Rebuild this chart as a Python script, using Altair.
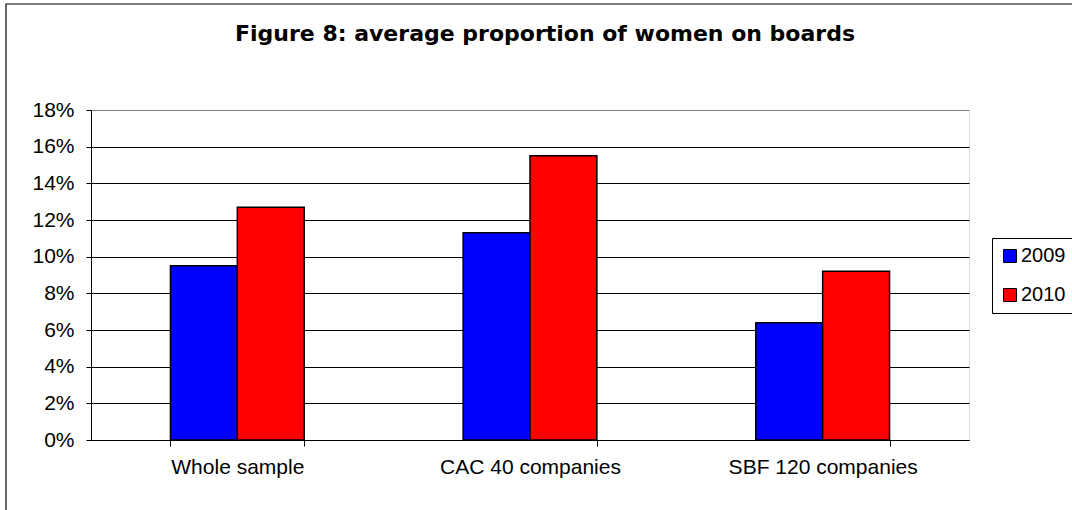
import altair as alt
import pandas as pd

# Average share of women on boards, by index and year
groups = ["Whole sample", "CAC 40 companies", "SBF 120 companies"]
years = ["2009", "2010"]
share_2009 = [0.095, 0.113, 0.064]
share_2010 = [0.127, 0.155, 0.092]
y_ticks = [0.0, 0.02, 0.04, 0.06, 0.08, 0.10, 0.12, 0.14, 0.16, 0.18]
bar_colors = ["#0000FF", "#FF0000"]

rows = []
for g, a, b in zip(groups, share_2009, share_2010):
    rows.append({"group": g, "year": years[0], "share": a})
    rows.append({"group": g, "year": years[1], "share": b})
df = pd.DataFrame(rows)

FONT = "Liberation Sans"

bars = alt.Chart(df).mark_bar(stroke="black", strokeWidth=1.5).encode(
    x=alt.X(
        "group:N",
        sort=groups,
        scale=alt.Scale(paddingInner=0.543, paddingOuter=0.2715),
        axis=alt.Axis(
            title=None,
            labelAngle=0,
            labelFontSize=21,
            labelFont=FONT,
            labelColor="black",
            labelPadding=10,
            labelLimit=400,
            tickBand="extent",
            tickSize=6,
            tickColor="black",
            domainColor="black",
            grid=False,
        ),
    ),
    xOffset=alt.XOffset("year:N", sort=years),
    y=alt.Y(
        "share:Q",
        scale=alt.Scale(domain=[0, 0.18], nice=False),
        axis=alt.Axis(
            title=None,
            values=y_ticks,
            format=".0%",
            labelFontSize=21,
            labelFont=FONT,
            labelColor="black",
            labelPadding=12,
            tickSize=5,
            tickColor="black",
            domainColor="black",
            grid=True,
            gridColor={
                "condition": {"test": "datum.value >= 0.179", "value": "#808080"},
                "value": "#000000",
            },
            gridWidth=1,
        ),
    ),
    color=alt.Color(
        "year:N",
        scale=alt.Scale(domain=years, range=bar_colors),
        legend=alt.Legend(
            title=None,
            orient="none",
            legendX=901,
            legendY=128,
            strokeColor="black",
            fillColor="white",
            padding=8,
            symbolType="square",
            symbolSize=169,
            symbolStrokeColor="black",
            symbolStrokeWidth=1,
            labelFontSize=20,
            labelFont=FONT,
            labelColor="black",
            labelOffset=1,
            rowPadding=19,
        ),
    ),
)

# outer chart frame
frame = alt.Chart(alt.Data(values=[{"k": 1}])).mark_rect(
    filled=False, stroke="black", strokeWidth=1.2
).encode(
    x=alt.value(-85),
    x2=alt.value(1100),
    y=alt.value(-106),
    y2=alt.value(500),
)

chart = alt.layer(frame, bars).properties(
    width=878,
    height=330,
    title=alt.Title(
        "Figure 8: average proportion of women on boards",
        font="DejaVu Sans",
        fontSize=22,
        fontWeight="bold",
        color="black",
        anchor="middle",
        dx=15,
        offset=-43,
    ),
    autosize=alt.AutoSizeParams(type="none"),
    padding={"left": 91, "top": 110, "right": 103, "bottom": 70},
).configure_view(
    stroke="#808080", strokeWidth=1
).configure(
    background="white"
)

chart.save("out.html", embed_options={"renderer": "svg", "actions": False})
